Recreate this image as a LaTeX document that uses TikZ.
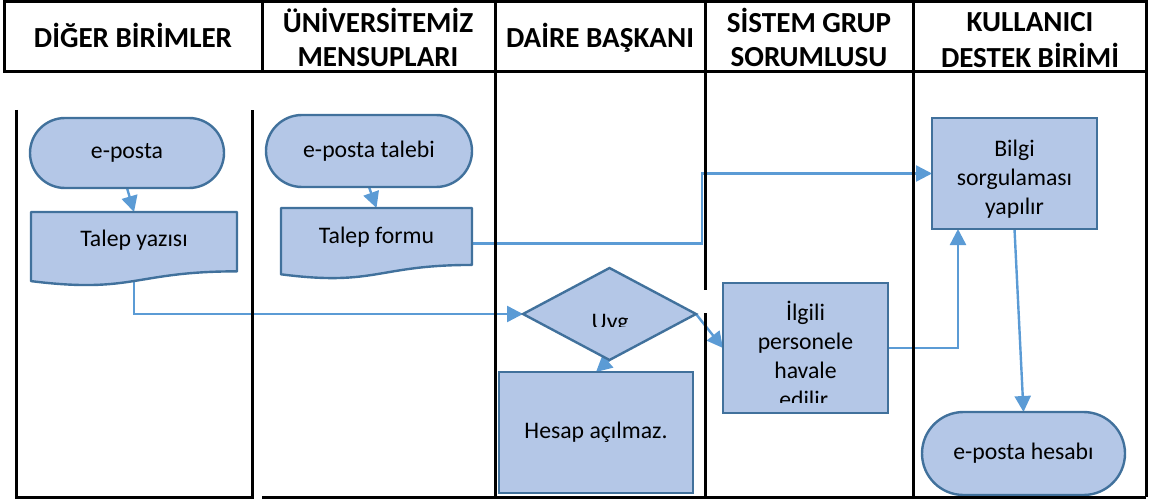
\documentclass[tikz,border=0pt]{standalone}
\usepackage{fontspec}
\setmainfont{Carlito}
\usetikzlibrary{shapes.geometric,shapes.misc,arrows.meta,calc}
\definecolor{boxfill}{HTML}{B4C7E7}
\definecolor{boxline}{HTML}{41719C}
\definecolor{flow}{HTML}{5B9BD5}
\pgfdeclarelayer{conn}
\pgfdeclarelayer{background}
\pgfsetlayers{conn,background,main}
\begin{document}
\begin{tikzpicture}[x=0.75pt,y=-0.75pt,
  lane/.style={line width=2.25pt, draw=black},
  hdr/.style={font=\fontsize{21.8}{25.9}\selectfont\bfseries, align=center, inner sep=0pt},
  bodytxt/.style={font=\fontsize{17.8}{21.75}\selectfont, align=center, inner sep=0pt},
  boxstyle/.style={draw=boxline, fill=boxfill, line width=1.8pt, inner sep=0pt, outer sep=0pt},
  tbox/.style={boxstyle, rounded rectangle, bodytxt},
  pbox/.style={boxstyle, rectangle, bodytxt},
  dbox/.style={boxstyle, diamond},
  docbase/.style={rectangle, inner sep=0pt, outer sep=0pt},
  docshape/.style={draw=boxline, fill=boxfill, line width=1.8pt, line join=round},
  flowarrow/.style={draw=flow, line width=1.8pt, -{Triangle[length=12pt,width=12pt]}},
]
\useasboundingbox (0,0) rectangle (1149,499);

% ---------- column headings ----------
\node[hdr] (h1) at (133,41)   {\strut DİĞER BİRİMLER};
\node[hdr] (h2) at (378,42.4) {\strut ÜNİVERSİTEMİZ\\\strut MENSUPLARI};
\node[hdr] (h3) at (600,41)   {\strut DAİRE BAŞKANI};
\node[hdr] (h4) at (809,42.4) {\strut SİSTEM GRUP\\\strut SORUMLUSU};
\node[hdr] (h5) at (1030,42.4){\strut KULLANICI\\\strut DESTEK BİRİMİ};

% ---------- flow elements ----------
\node[tbox, minimum width=145.5pt, minimum height=52.5pt] (epA) at (127,153) {e-posta};
\node[docbase, minimum width=154.5pt, minimum height=55.5pt,
      label={[bodytxt,yshift=6.75pt]center:Talep yazısı}] (ty) at (134,249) {};

\node[tbox, minimum width=154.5pt, minimum height=54pt] (epB) at (369,151) {e-posta talebi};
\node[docbase, minimum width=143.25pt, minimum height=53.25pt,
      label={[bodytxt,yshift=5.1pt]center:Talep formu}] (tf) at (376.5,243.5) {};

\node[dbox, minimum width=129.75pt, minimum height=69pt] (uyg) at (609.5,314) {};
\begin{scope}
  \clip (523,268) rectangle (696,326);
  \node[bodytxt, anchor=base] (uygtxt) at (610,329) {Uyg};
\end{scope}

\node[pbox, minimum width=145.5pt, minimum height=90.75pt] (hes) at (596,432.5) {Hesap açılmaz.};

\node[pbox, minimum width=123.75pt, minimum height=97.5pt] (ilg) at (805.5,348) {};
\begin{scope}
  \clip (723,283) rectangle (888,402);
  \node[bodytxt] (ilgtxt) at (805.5,354) {İlgili\\personele\\havale\\edilir.};
\end{scope}

\node[pbox, minimum width=123.75pt, minimum height=83.25pt,
      label={[bodytxt,yshift=-4pt]center:Bilgi\\sorgulaması\\yapılır}] (bil) at (1014.5,173.5) {};

\node[tbox, minimum width=152.25pt, minimum height=62.25pt] (eph) at (1023.5,453.5) {e-posta hesabı};

% document shapes with wavy lower edge
\begin{pgfonlayer}{background}
  \foreach \d in {ty,tf}{
    \path[docshape] (\d.north west) -- (\d.north east)
      -- ($(\d.north east)!0.802!(\d.south east)$)
      .. controls ($(\d.north)!0.802!(\d.south)$) and ($(\d.north)!1.107!(\d.south)$)
      .. ($(\d.north west)!0.934!(\d.south west)$) -- cycle;
  }
\end{pgfonlayer}

% ---------- connectors ----------
\coordinate (j1) at (702,0);
\coordinate (j2) at (958,0);
\begin{pgfonlayer}{conn}
  \draw[flowarrow] (epA.south) -- (ty.north);
  \draw[flowarrow] (epB.south) -- (tf.north);
  \draw[flowarrow] (ty.center) |- (uyg.west);
  \draw[flowarrow] (tf.east) -| (j1 |- bil.west) -- (bil.west);
  \draw[flowarrow] (uyg.south) -- (hes.north);
  \draw[flowarrow] (uyg.east) -- (ilg.west);
  \draw[flowarrow] (ilg.east) -| (j2 |- bil.south);
  \draw[flowarrow] (bil.south) -- (eph.north);
\end{pgfonlayer}

% ---------- swimlane frame ----------
\draw[lane] (4,2) rectangle (1146,72);
\foreach \x in {262,495,705,913} \draw[lane] (\x,2) -- (\x,72);
\draw[lane] (16,110) -- (16,497) -- (252,497) -- (252,110);
\draw[lane] (262,497) -- (1146,497);
\draw[lane] (495,72) -- (495,497);
\draw[lane] (705,72) -- (705,290);
\draw[lane] (705,313) -- (705,497);
\draw[lane] (913,72) -- (913,497);
\draw[lane] (1146,72) -- (1146,497);
\end{tikzpicture}
\end{document}
